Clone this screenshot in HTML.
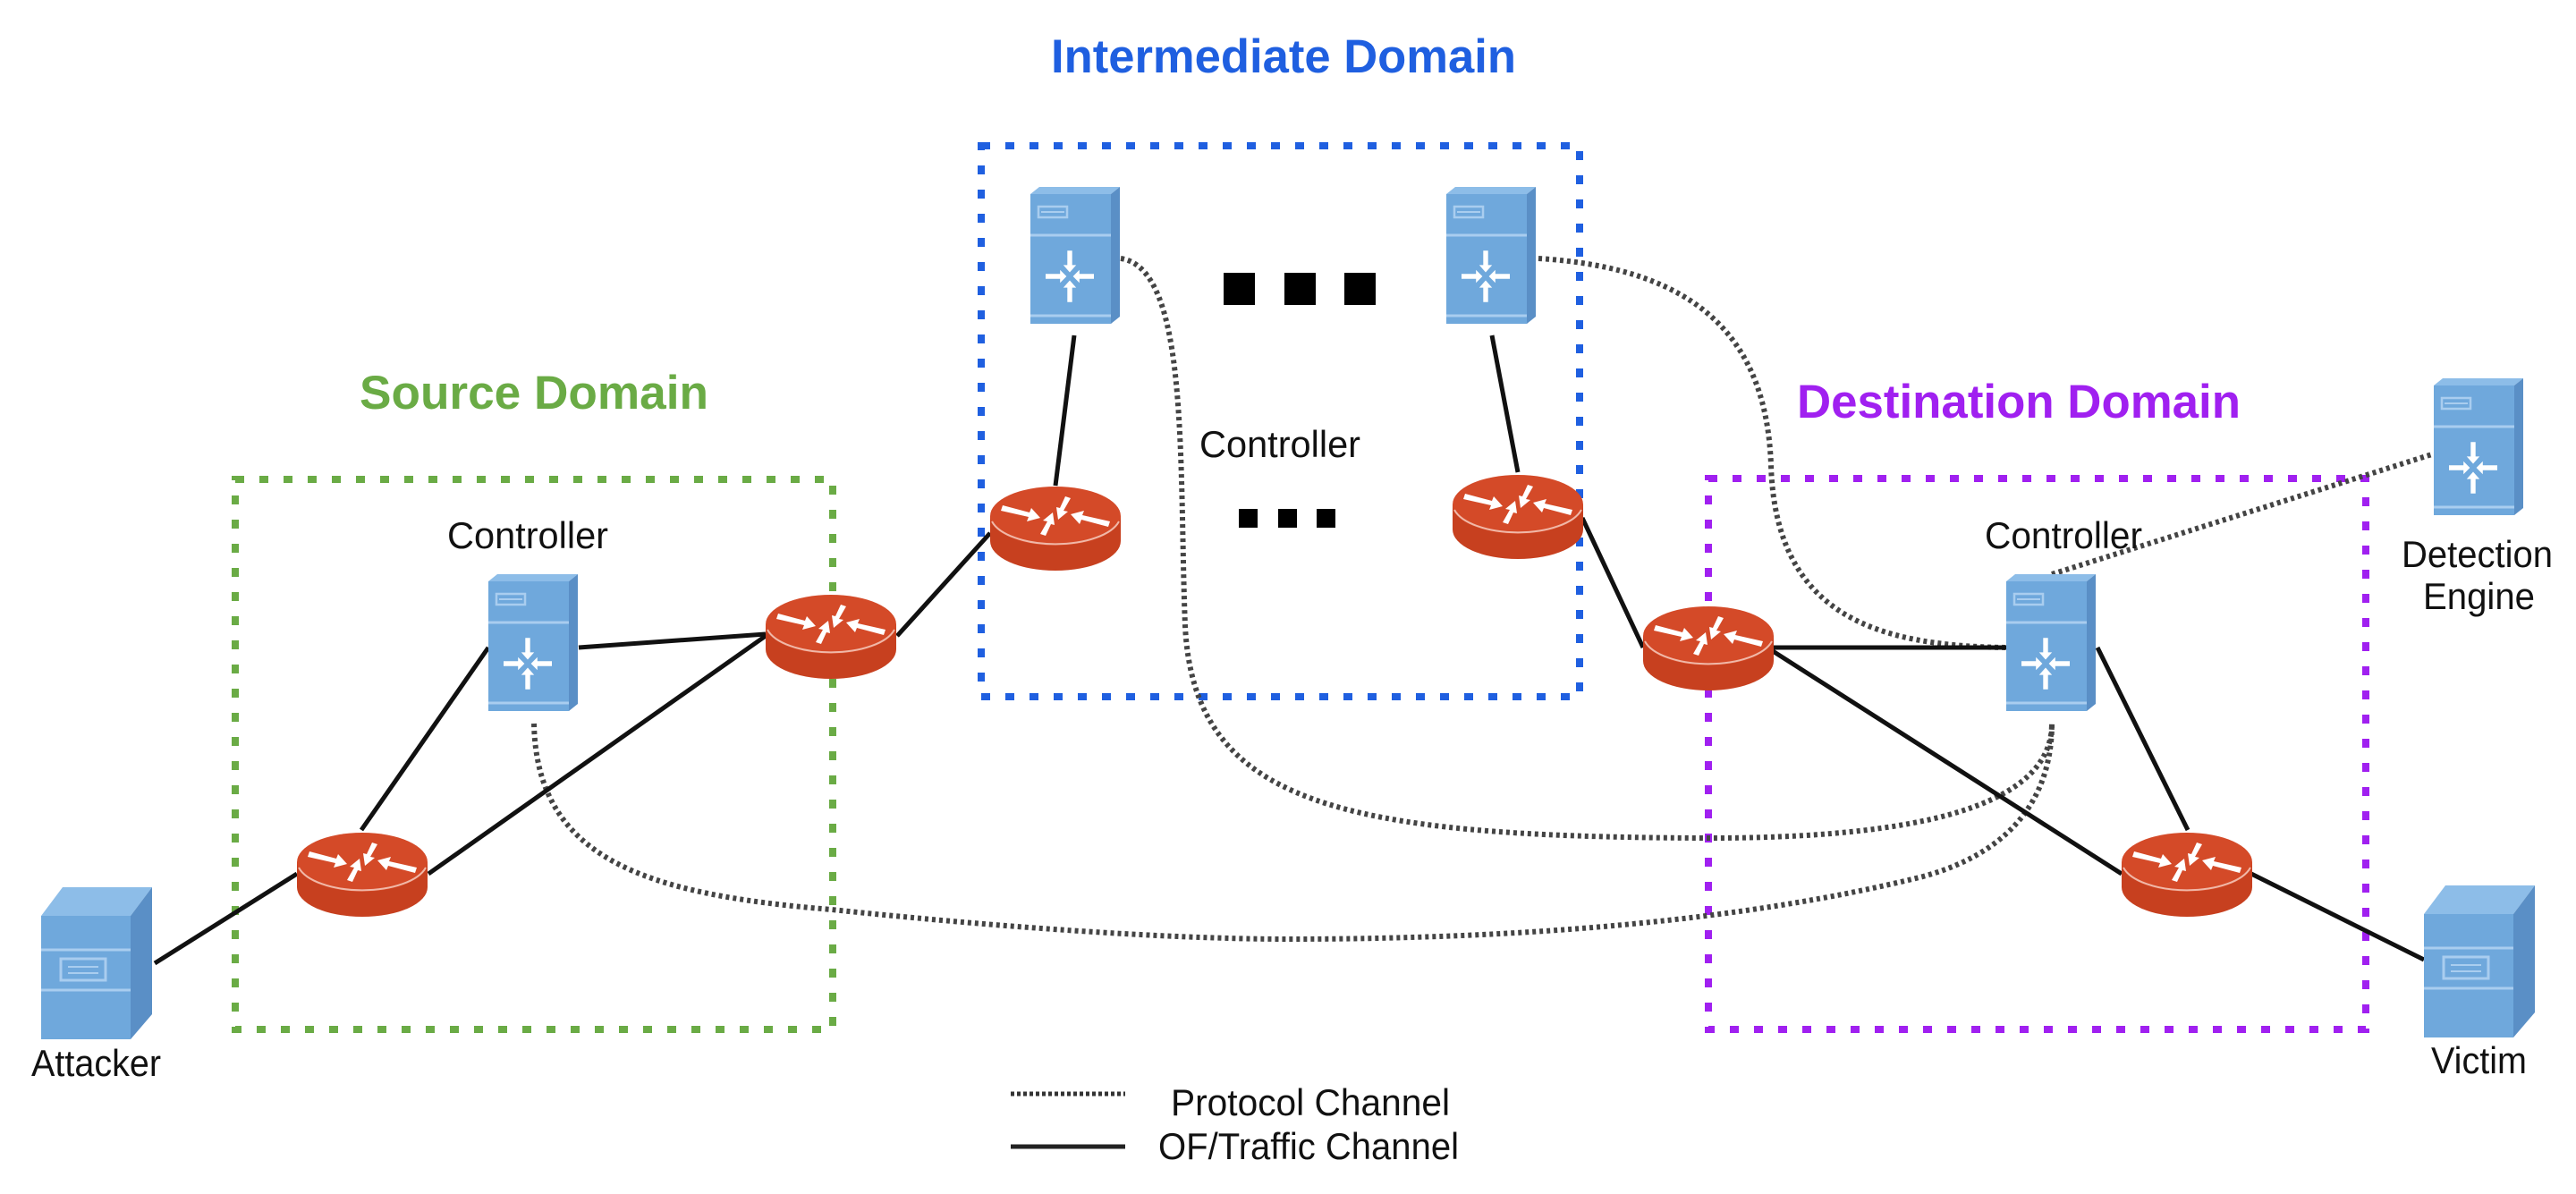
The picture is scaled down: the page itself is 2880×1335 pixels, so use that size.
<!DOCTYPE html>
<html><head><meta charset="utf-8"><style>html,body{margin:0;padding:0;background:#fff}svg{display:block}</style></head>
<body>
<svg width="2880" height="1335" viewBox="0 0 2880 1335" xmlns="http://www.w3.org/2000/svg" font-family="'Liberation Sans', sans-serif">
<defs>
  <g id="arrows4">
    <g fill="#fff">
      <polygon points="-30,-3 -12,-3 -12,-8 -4,0 -12,8 -12,3 -30,3"/>
      <polygon points="30,-3 12,-3 12,-8 4,0 12,8 12,3 30,3"/>
      <polygon points="-3,-32 3,-32 3,-14 8,-14 0,-5 -8,-14 -3,-14" transform="rotate(180)"/>
      <polygon points="-3,32 3,32 3,14 8,14 0,5 -8,14 -3,14" transform="rotate(180)"/>
    </g>
  </g>
  <g id="ctrl">
    <polygon points="0,10 10,2 100,2 90,10" fill="#8DBDE8"/>
    <polygon points="90,10 100,2 100,147 90,155" fill="#5A8FC6"/>
    <rect x="0" y="10" width="90" height="145" fill="#6FA8DC"/>
    <line x1="0" y1="56" x2="90" y2="56" stroke="#A9CDEF" stroke-width="3"/>
    <line x1="0" y1="146" x2="90" y2="146" stroke="#A9CDEF" stroke-width="3"/>
    <rect x="9" y="24" width="32" height="12" fill="none" stroke="#A9CDEF" stroke-width="2.5"/>
    <line x1="12" y1="30" x2="38" y2="30" stroke="#A9CDEF" stroke-width="2"/>
    <use href="#arrows4" transform="translate(44,102) scale(0.9)"/>
  </g>
  <g id="host">
    <polygon points="0,32 24,0 124,0 100,32" fill="#8DBDE8"/>
    <polygon points="100,32 124,0 124,142 100,170" fill="#5A8FC6"/>
    <rect x="0" y="32" width="100" height="138" fill="#6FA8DC"/>
    <line x1="0" y1="70" x2="100" y2="70" stroke="#A9CDEF" stroke-width="3"/>
    <line x1="0" y1="115" x2="100" y2="115" stroke="#A9CDEF" stroke-width="3"/>
    <rect x="22" y="80" width="50" height="24" fill="none" stroke="#A9CDEF" stroke-width="3"/>
    <line x1="30" y1="89" x2="64" y2="89" stroke="#A9CDEF" stroke-width="2"/>
    <line x1="30" y1="96" x2="64" y2="96" stroke="#A9CDEF" stroke-width="2"/>
  </g>
  <g id="router">
    <path d="M0,36 L0,64 A73,33 0 0 0 146,64 L146,36 Z" fill="#C7401F"/>
    <ellipse cx="73" cy="36" rx="73" ry="33" fill="#D44A28"/>
    <path d="M2,42 A73,33 0 0 0 144,42" fill="none" stroke="#F0B8A8" stroke-width="2"/>
    <g fill="#fff">
      <polygon points="14,24 44,32 46,27 56,38 41,42 43,37 12,30"/>
      <polygon points="132,48 102,40 100,45 90,34 105,30 103,35 134,42"/>
      <polygon points="56,56 64,42 59,41 70,32 72,46 68,45 62,58"/>
      <polygon points="90,16 82,30 87,31 76,40 74,26 78,27 84,14"/>
    </g>
  </g>
</defs>

<rect x="1097" y="163" width="669" height="616" fill="none" stroke="#1F5FE0" stroke-width="8" stroke-dasharray="10 17"/>
<rect x="263" y="536" width="668" height="615" fill="none" stroke="#6AAB45" stroke-width="8" stroke-dasharray="10 17"/>
<rect x="1910" y="535" width="735" height="616" fill="none" stroke="#A020F0" stroke-width="8" stroke-dasharray="10 17"/>

<text x="1175" y="81" font-size="53" font-weight="bold" fill="#1F5FE0" textLength="520" lengthAdjust="spacingAndGlyphs">Intermediate Domain</text>
<text x="402" y="457" font-size="53" font-weight="bold" fill="#6AAB45" textLength="390" lengthAdjust="spacingAndGlyphs">Source Domain</text>
<text x="2009" y="467" font-size="53" font-weight="bold" fill="#A020F0" textLength="496" lengthAdjust="spacingAndGlyphs">Destination Domain</text>

<g fill="none" stroke="#444" stroke-width="6" stroke-dasharray="4 4">
  <path d="M1253,289 C1330,300 1318,520 1325,700 C1335,900 1500,935 1900,937 C2150,938 2294,900 2294,809"/>
  <path d="M1720,289 C1900,300 1975,380 1980,520 C1985,690 2100,722 2243,724"/>
  <path d="M597,809 C600,960 720,1000 930,1017 C1100,1035 1300,1050 1440,1050 C1700,1050 1950,1030 2150,980 C2260,950 2294,880 2294,809"/>
  <path d="M2294,642 L2719,508"/>
</g>

<g stroke="#111" stroke-width="5" fill="none">
  <line x1="173" y1="1077" x2="332" y2="977"/>
  <line x1="404" y1="928" x2="546" y2="724"/>
  <line x1="479" y1="977" x2="856" y2="711"/>
  <line x1="647" y1="724" x2="856" y2="709"/>
  <line x1="1003" y1="711" x2="1107" y2="596"/>
  <line x1="1180" y1="543" x2="1201" y2="375"/>
  <line x1="1668" y1="375" x2="1697" y2="528"/>
  <line x1="1769" y1="579" x2="1837" y2="724"/>
  <line x1="1982" y1="724" x2="2243" y2="724"/>
  <line x1="1982" y1="728" x2="2372" y2="977"/>
  <line x1="2345" y1="724" x2="2446" y2="928"/>
  <line x1="2517" y1="977" x2="2710" y2="1073"/>
</g>

<use href="#router" transform="translate(332,928)"/>
<use href="#router" transform="translate(856,662)"/>
<use href="#router" transform="translate(1107,541)"/>
<use href="#router" transform="translate(1624,528)"/>
<use href="#router" transform="translate(1837,675)"/>
<use href="#router" transform="translate(2372,928)"/>

<use href="#ctrl" transform="translate(546,640)"/>
<use href="#ctrl" transform="translate(1152,207)"/>
<use href="#ctrl" transform="translate(1617,207)"/>
<use href="#ctrl" transform="translate(2243,640)"/>
<use href="#ctrl" transform="translate(2721,421)"/>
<use href="#host" transform="translate(46,992)"/>
<use href="#host" transform="translate(2710,990)"/>

<g fill="#000">
  <rect x="1368" y="305" width="35" height="36"/>
  <rect x="1436" y="305" width="35" height="36"/>
  <rect x="1503" y="305" width="35" height="36"/>
  <rect x="1385" y="569" width="21" height="21"/>
  <rect x="1429" y="569" width="21" height="21"/>
  <rect x="1472" y="569" width="21" height="21"/>
</g>

<g font-size="42" fill="#111">
  <text x="500" y="613" textLength="180" lengthAdjust="spacingAndGlyphs">Controller</text>
  <text x="1341" y="511" textLength="180" lengthAdjust="spacingAndGlyphs">Controller</text>
  <text x="2219" y="613" textLength="176" lengthAdjust="spacingAndGlyphs">Controller</text>
  <text x="2685" y="634" textLength="169" lengthAdjust="spacingAndGlyphs">Detection</text>
  <text x="2709" y="681" textLength="125" lengthAdjust="spacingAndGlyphs">Engine</text>
  <text x="35" y="1203" textLength="145" lengthAdjust="spacingAndGlyphs">Attacker</text>
  <text x="2718" y="1200" textLength="107" lengthAdjust="spacingAndGlyphs">Victim</text>
  <text x="1309" y="1247" textLength="312" lengthAdjust="spacingAndGlyphs">Protocol Channel</text>
  <text x="1295" y="1296" textLength="336" lengthAdjust="spacingAndGlyphs">OF/Traffic Channel</text>
</g>
<line x1="1130" y1="1223" x2="1258" y2="1223" stroke="#333" stroke-width="5" stroke-dasharray="4 3"/>
<line x1="1130" y1="1282" x2="1258" y2="1282" stroke="#222" stroke-width="5"/>
</svg>
</body></html>
